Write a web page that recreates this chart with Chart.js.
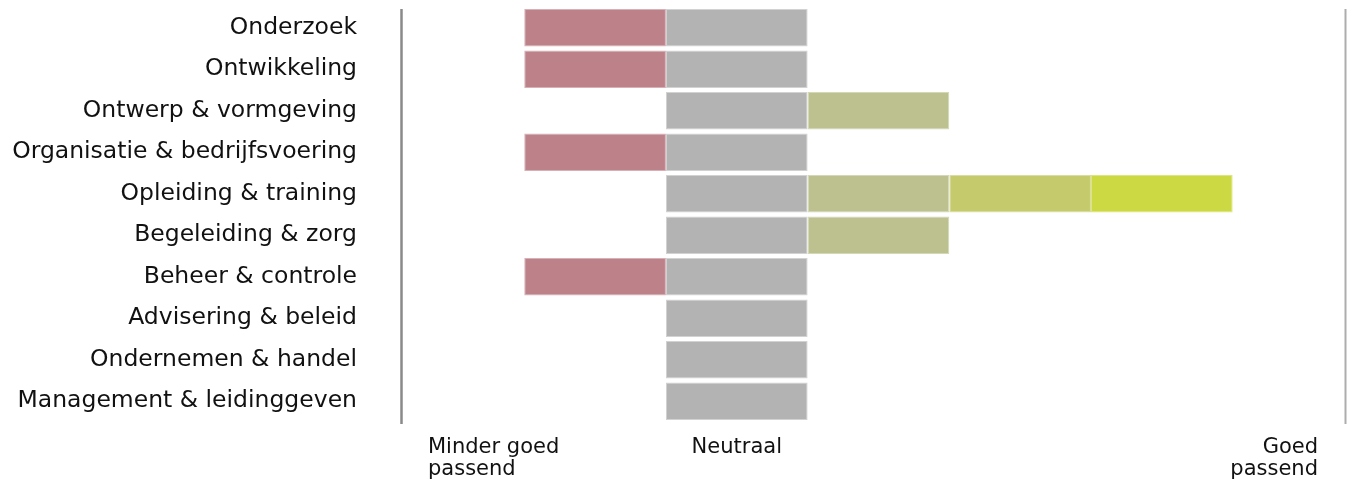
<!DOCTYPE html>
<html>
<head>
<meta charset="utf-8">
<script src="https://cdn.jsdelivr.net/npm/chart.js@4.4.1/dist/chart.umd.min.js"></script>
<style>
  html, body { margin: 0; padding: 0; background: #ffffff; }
  #wrap { position: relative; width: 1350px; height: 482px; }
</style>
</head>
<body>
<div id="wrap"><canvas id="c" width="1350" height="482"></canvas></div>
<script>
// ---- data ----
const categories = [
  "Onderzoek",
  "Ontwikkeling",
  "Ontwerp & vormgeving",
  "Organisatie & bedrijfsvoering",
  "Opleiding & training",
  "Begeleiding & zorg",
  "Beheer & controle",
  "Advisering & beleid",
  "Ondernemen & handel",
  "Management & leidinggeven"
];
const minderGoed = [-1, -1, null, -1, null, null, -1, null, null, null];
const neutraal   = [1, 1, 1, 1, 1, 1, 1, 1, 1, 1];
const goed1      = [null, null, 1, null, 1, 1, null, null, null, null];
const goed2      = [null, null, null, null, 1, null, null, null, null, null];
const goed3      = [null, null, null, null, 1, null, null, null, null, null];
const scaleMin = -1.87;
const scaleMax = 4.8;
const bottomLabelLeft = ["Minder goed", "passend"];
const bottomLabelMid = ["Neutraal"];
const bottomLabelRight = ["Goed", "passend"];

const FONT = '"DejaVu Sans", Verdana, sans-serif';

const frame = {
  id: 'frame',
  afterDraw(chart) {
    const ctx = chart.ctx;
    const a = chart.chartArea;
    const x = chart.scales.x;
    ctx.save();
    // left axis line
    ctx.strokeStyle = '#8a8a8a';
    ctx.lineWidth = 2.5;
    ctx.beginPath();
    ctx.moveTo(a.left + 0.5, a.top + 2);
    ctx.lineTo(a.left + 0.5, a.bottom + 2);
    ctx.stroke();
    // right line
    ctx.strokeStyle = '#adadad';
    ctx.lineWidth = 2;
    ctx.beginPath();
    ctx.moveTo(a.right - 0.5, a.top + 2);
    ctx.lineTo(a.right - 0.5, a.bottom + 2);
    ctx.stroke();
    // bottom labels
    ctx.fillStyle = '#111111';
    ctx.font = '21px ' + FONT;
    ctx.textBaseline = 'alphabetic';
    const y0 = 453, lh = 22;
    ctx.textAlign = 'left';
    bottomLabelLeft.forEach((t, i) => ctx.fillText(t, a.left + 27, y0 + i * lh));
    ctx.textAlign = 'center';
    const mid = (x.getPixelForValue(0) + x.getPixelForValue(1)) / 2;
    bottomLabelMid.forEach((t, i) => ctx.fillText(t, mid, y0 + i * lh));
    ctx.textAlign = 'right';
    bottomLabelRight.forEach((t, i) => ctx.fillText(t, a.right - 28, y0 + i * lh));
    ctx.restore();
  }
};

function ds(label, data, color, border) {
  return {
    label, data,
    backgroundColor: color,
    borderColor: border,
    borderWidth: 1,
    borderSkipped: false,
    barPercentage: 0.9,
    categoryPercentage: 1.0
  };
}

new Chart(document.getElementById('c'), {
  type: 'bar',
  data: {
    labels: categories,
    datasets: [
      ds('Minder goed passend', minderGoed, '#bc8189', '#d6b0b5'),
      ds('Neutraal', neutraal, '#b3b3b3', '#d2d2d2'),
      ds('Goed 1', goed1, '#bcc18f', '#d4d8b6'),
      ds('Goed 2', goed2, '#c5cb6d', '#d9dd9e'),
      ds('Goed 3', goed3, '#ccd942', '#dde57e')
    ]
  },
  options: {
    indexAxis: 'y',
    responsive: false,
    animation: false,
    devicePixelRatio: 1,
    layout: { padding: { top: 7, bottom: 60, left: 0, right: 4 } },
    plugins: { legend: { display: false }, tooltip: { enabled: false } },
    scales: {
      x: {
        stacked: true,
        display: false,
        min: scaleMin,
        max: scaleMax
      },
      y: {
        stacked: true,
        grid: {
          display: true,
          drawOnChartArea: false,
          drawTicks: true,
          tickLength: 44,
          color: 'rgba(0,0,0,0)'
        },
        border: { display: false },
        ticks: {
          color: '#111111',
          font: { family: FONT, size: 23.5 },
          padding: 0
        },
        afterFit(scale) {
          scale.width = 401;
          scale.paddingTop = 0;
          scale.paddingBottom = 0;
        }
      }
    }
  },
  plugins: [frame]
});
</script>
</body>
</html>
